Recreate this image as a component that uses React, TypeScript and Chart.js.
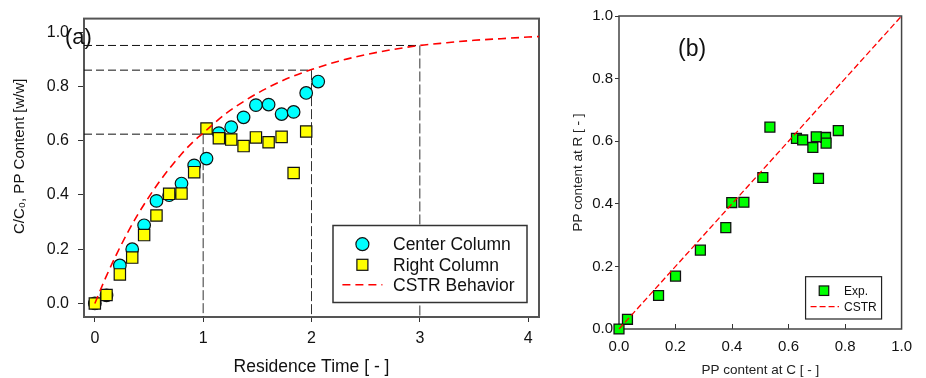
import React, { useEffect, useRef } from "react";
import Chart from "chart.js/auto";

// ---------- data ----------
const residenceTime = [0, 0.108, 0.231, 0.345, 0.455, 0.569, 0.686, 0.8, 0.917, 1.031, 1.145, 1.259, 1.373, 1.487, 1.604, 1.724, 1.835, 1.951, 2.062];
const centerColumn = [0, 0.03, 0.14, 0.2, 0.288, 0.378, 0.399, 0.442, 0.509, 0.534, 0.628, 0.65, 0.686, 0.731, 0.733, 0.698, 0.706, 0.776, 0.818];
const rightColumn = [0, 0.031, 0.107, 0.169, 0.252, 0.324, 0.404, 0.405, 0.484, 0.645, 0.609, 0.604, 0.58, 0.612, 0.594, 0.614, 0.481, 0.634];

const cstrTime = [0, 0.1, 0.2, 0.3, 0.4, 0.5, 0.6, 0.7, 0.8, 0.9, 1.0, 1.2, 1.4, 1.6, 1.8, 2.0, 2.25, 2.5, 2.75, 3.0, 3.25, 3.5, 3.75, 4.0, 4.1];
const cstrValue = [0, 0.095, 0.181, 0.259, 0.33, 0.393, 0.451, 0.503, 0.551, 0.593, 0.628, 0.697, 0.751, 0.796, 0.833, 0.862, 0.893, 0.917, 0.936, 0.951, 0.961, 0.97, 0.976, 0.982, 0.984];

const guideTime = [1, 2, 3];
const guideLevel = [0.624, 0.86, 0.951];

const xTicksA = [0, 1, 2, 3, 4];
const yTicksA = [0, 0.2, 0.4, 0.6, 0.8, 1.0];
const ticksB = [0, 0.2, 0.4, 0.6, 0.8, 1.0];
const diagonalX = [0, 1];
const diagonalY = [0, 1];

const X_MIN_A = -0.1, X_MAX_A = 4.1, Y_MIN_A = -0.05, Y_MAX_A = 1.05;

const FONT = '"Liberation Sans", Arial, Helvetica, sans-serif';
const INK = "#111";

function frame(color: string, lw: number) {
  return {
    id: "frame",
    beforeDatasetsDraw(chart: any) {
      const { ctx, chartArea: a } = chart;
      ctx.save();
      ctx.strokeStyle = color;
      ctx.lineWidth = lw;
      ctx.strokeRect(a.left, a.top, a.right - a.left, a.bottom - a.top);
      ctx.restore();
    },
  };
}

function drawCircle(ctx: any, x: number, y: number, r: number, fill: string) {
  ctx.beginPath();
  ctx.arc(x, y, r, 0, Math.PI * 2);
  ctx.fillStyle = fill;
  ctx.fill();
  ctx.lineWidth = 1.2;
  ctx.strokeStyle = INK;
  ctx.stroke();
}
function drawSquare(ctx: any, x: number, y: number, s: number, fill: string) {
  ctx.fillStyle = fill;
  ctx.fillRect(x - s / 2, y - s / 2, s, s);
  ctx.lineWidth = 1.2;
  ctx.strokeStyle = INK;
  ctx.strokeRect(x - s / 2, y - s / 2, s, s);
}

const legendA = {
  id: "legendA",
  afterDatasetsDraw(chart: any) {
    const { ctx, chartArea: a } = chart;
    const w = 194, h = 77;
    const right = a.right - 12, bottom = a.bottom - 14.5;
    const left = right - w, top = bottom - h;
    ctx.save();
    ctx.fillStyle = "#fff";
    ctx.fillRect(left, top, w, h);
    ctx.lineWidth = 1.5;
    ctx.strokeStyle = "#333";
    ctx.strokeRect(left, top, w, h);
    const rows = [top + 18.7, top + 39.3, top + 59.3];
    const mx = left + 29.4;
    drawCircle(ctx, mx, rows[0], 6.5, "#00ffff");
    drawSquare(ctx, mx, rows[1], 11, "#ffff00");
    ctx.beginPath();
    ctx.setLineDash([8, 5]);
    ctx.strokeStyle = "#ff0000";
    ctx.lineWidth = 1.6;
    ctx.moveTo(left + 9.4, rows[2]);
    ctx.lineTo(left + 49.4, rows[2]);
    ctx.stroke();
    ctx.setLineDash([]);
    ctx.fillStyle = INK;
    ctx.font = `17.5px ${FONT}`;
    ctx.textBaseline = "middle";
    ctx.textAlign = "left";
    const labels = ["Center Column", "Right Column", "CSTR Behavior"];
    labels.forEach((l, i) => ctx.fillText(l, left + 60, rows[i] + 1));
    // panel label
    ctx.font = `22px ${FONT}`;
    ctx.fillText("(a)", a.left - 19, a.top + 19.5);
    // y-axis title
    ctx.save();
    ctx.translate(a.left - 64, (a.top + a.bottom) / 2 - 11.5);
    ctx.rotate(-Math.PI / 2);
    ctx.font = `15px ${FONT}`;
    ctx.textAlign = "center";
    ctx.textBaseline = "middle";
    ctx.fillText("C/C\u2080, PP Content [w/w]", 0, 0);
    ctx.restore();
    ctx.restore();
  },
};

const legendB = {
  id: "legendB",
  afterDatasetsDraw(chart: any) {
    const { ctx, chartArea: a } = chart;
    const w = 76, h = 42.3;
    const right = a.right - 20, bottom = a.bottom - 10;
    const left = right - w, top = bottom - h;
    ctx.save();
    ctx.fillStyle = "#fff";
    ctx.fillRect(left, top, w, h);
    ctx.lineWidth = 1.2;
    ctx.strokeStyle = "#222";
    ctx.strokeRect(left, top, w, h);
    drawSquare(ctx, left + 18.4, top + 14, 9.5, "#00ff00");
    ctx.beginPath();
    ctx.setLineDash([6, 3]);
    ctx.strokeStyle = "#ff0000";
    ctx.lineWidth = 1.2;
    ctx.moveTo(left + 5, top + 30);
    ctx.lineTo(left + 33.4, top + 30);
    ctx.stroke();
    ctx.setLineDash([]);
    ctx.fillStyle = INK;
    ctx.font = `12px ${FONT}`;
    ctx.textBaseline = "middle";
    ctx.textAlign = "left";
    ctx.fillText("Exp.", left + 38.4, top + 14.5);
    ctx.fillText("CSTR", left + 38.4, top + 30.5);
    ctx.font = `23px ${FONT}`;
    ctx.fillText("(b)", a.left + 59, a.top + 34);
    ctx.restore();
  },
};

function ChartA() {
  const ref = useRef<HTMLCanvasElement>(null);
  useEffect(() => {
    const horiz = guideTime.map((t, i) => ({
      label: "guide-h",
      data: [{ x: X_MIN_A, y: guideLevel[i] }, { x: t, y: guideLevel[i] }],
      showLine: true,
      pointRadius: 0,
      borderColor: "#111",
      borderWidth: 1,
      borderDash: [8, 4],
      order: 3,
    }));
    const vert = guideTime.map((t, i) => ({
      label: "guide-v",
      data: [{ x: t, y: guideLevel[i] }, { x: t, y: Y_MIN_A }],
      showLine: true,
      pointRadius: 0,
      borderColor: "#333",
      borderWidth: 1,
      borderDash: [10, 3],
      order: 3,
    }));
    const chart = new Chart(ref.current as HTMLCanvasElement, {
      type: "scatter",
      data: {
        datasets: [
          {
            label: "Center Column",
            data: residenceTime.map((t, i) => ({ x: t, y: centerColumn[i] })),
            pointStyle: "circle",
            pointRadius: 6.3,
            backgroundColor: "#00ffff",
            borderColor: INK,
            borderWidth: 1.2,
            order: 2,
            clip: false,
          } as any,
          {
            label: "Right Column",
            data: rightColumn.map((v, i) => ({ x: residenceTime[i], y: v })),
            pointStyle: "rect",
            pointRadius: 8,
            backgroundColor: "#ffff00",
            borderColor: INK,
            borderWidth: 1.2,
            order: 1,
            clip: false,
          },
          {
            label: "CSTR Behavior",
            data: cstrTime.map((t, i) => ({ x: t, y: cstrValue[i] })),
            showLine: true,
            pointRadius: 0,
            borderColor: "#ff0000",
            borderWidth: 1.6,
            borderDash: [8, 5],
            cubicInterpolationMode: "monotone",
            order: 0,
          },
          ...horiz,
          ...vert,
        ] as any,
      },
      options: {
        responsive: false,
        animation: false,
        devicePixelRatio: 1,
        events: [],
        layout: { padding: { left: 0, top: 13, right: 21, bottom: 0 } },
        plugins: { legend: { display: false }, tooltip: { enabled: false } },
        scales: {
          x: {
            type: "linear",
            min: X_MIN_A,
            max: X_MAX_A,
            afterBuildTicks: (s: any) => {
              s.ticks = xTicksA.map((v) => ({ value: v }));
            },
            afterFit: (s: any) => {
              s.height = 61;
            },
            ticks: {
              font: { family: FONT, size: 16 },
              color: INK,
              padding: 7,
              autoSkip: false,
              maxRotation: 0,
              callback: (v: any) => String(v),
            },
            grid: { drawOnChartArea: false, tickLength: 5, color: "#333", lineWidth: 1 },
            border: { display: false },
            title: {
              display: true,
              text: "Residence Time [ - ]",
              font: { family: FONT, size: 17.5 },
              color: INK,
              padding: { top: 0, bottom: 0 },
            },
          },
          y: {
            type: "linear",
            min: Y_MIN_A,
            max: Y_MAX_A,
            afterBuildTicks: (s: any) => {
              s.ticks = yTicksA.map((v) => ({ value: v }));
            },
            afterFit: (s: any) => {
              s.width = 84;
            },
            ticks: {
              font: { family: FONT, size: 16 },
              color: INK,
              padding: 9,
              autoSkip: false,
              callback: (v: any) => Number(v).toFixed(1),
            },
            grid: { drawOnChartArea: false, tickLength: 6, color: "#333", lineWidth: 1 },
            border: { display: false },
            title: { display: false },
          },
        },
      } as any,
      plugins: [frame("#555", 2), legendA],
    });
    return () => chart.destroy();
  }, []);
  return <canvas ref={ref} width={560} height={378} style={{ position: "absolute", left: 0, top: 0, width: 560, height: 378 }} />;
}

function ChartB() {
  const ref = useRef<HTMLCanvasElement>(null);
  useEffect(() => {
    const chart = new Chart(ref.current as HTMLCanvasElement, {
      type: "scatter",
      data: {
        datasets: [
          {
            label: "CSTR",
            data: diagonalX.map((x, i) => ({ x, y: diagonalY[i] })),
            showLine: true,
            pointRadius: 0,
            borderColor: "#ff0000",
            borderWidth: 1.3,
            borderDash: [6, 3],
            order: 0,
            clip: false,
          },
          {
            label: "Exp.",
            data: rightColumn.map((v, i) => ({ x: centerColumn[i], y: v })),
            pointStyle: "rect",
            pointRadius: 7,
            backgroundColor: "#00ff00",
            borderColor: INK,
            borderWidth: 1.3,
            order: 1,
            clip: false,
          },
        ] as any,
      },
      options: {
        responsive: false,
        animation: false,
        devicePixelRatio: 1,
        events: [],
        layout: { padding: { left: 0, top: 16, right: 12, bottom: 0 } },
        plugins: { legend: { display: false }, tooltip: { enabled: false } },
        scales: {
          x: {
            type: "linear",
            min: 0,
            max: 1,
            afterBuildTicks: (s: any) => {
              s.ticks = ticksB.map((v) => ({ value: v }));
            },
            afterFit: (s: any) => {
              s.height = 49;
            },
            ticks: {
              font: { family: FONT, size: 15 },
              color: INK,
              padding: 14,
              autoSkip: false,
              maxRotation: 0,
              callback: (v: any) => Number(v).toFixed(1),
            },
            grid: { drawOnChartArea: false, tickLength: -5, color: "#333", lineWidth: 1 },
            border: { display: false },
            title: {
              display: true,
              text: "PP content at C [ - ]",
              font: { family: FONT, size: 13.5 },
              color: "#222",
              padding: { top: 0, bottom: 0 },
            },
          },
          y: {
            type: "linear",
            min: 0,
            max: 1,
            afterBuildTicks: (s: any) => {
              s.ticks = ticksB.map((v) => ({ value: v }));
            },
            afterFit: (s: any) => {
              s.width = 59;
            },
            ticks: {
              font: { family: FONT, size: 15 },
              color: INK,
              padding: 2,
              autoSkip: false,
              callback: (v: any) => Number(v).toFixed(1),
            },
            grid: { drawOnChartArea: false, tickLength: 4, color: "#333", lineWidth: 1 },
            border: { display: false },
            title: {
              display: true,
              text: "PP content at R [ - ]",
              font: { family: FONT, size: 13.5 },
              color: "#222",
              padding: { top: 10, bottom: 0 },
            },
          },
        },
      } as any,
      plugins: [frame("#444", 1.5), legendB],
    });
    return () => chart.destroy();
  }, []);
  return <canvas ref={ref} width={366} height={378} style={{ position: "absolute", left: 560, top: 0, width: 366, height: 378 }} />;
}

export default function App() {
  return (
    <div style={{ position: "absolute", left: 0, top: 0, width: 926, height: 378, background: "#fff", overflow: "hidden" }}>
      <ChartA />
      <ChartB />
    </div>
  );
}
